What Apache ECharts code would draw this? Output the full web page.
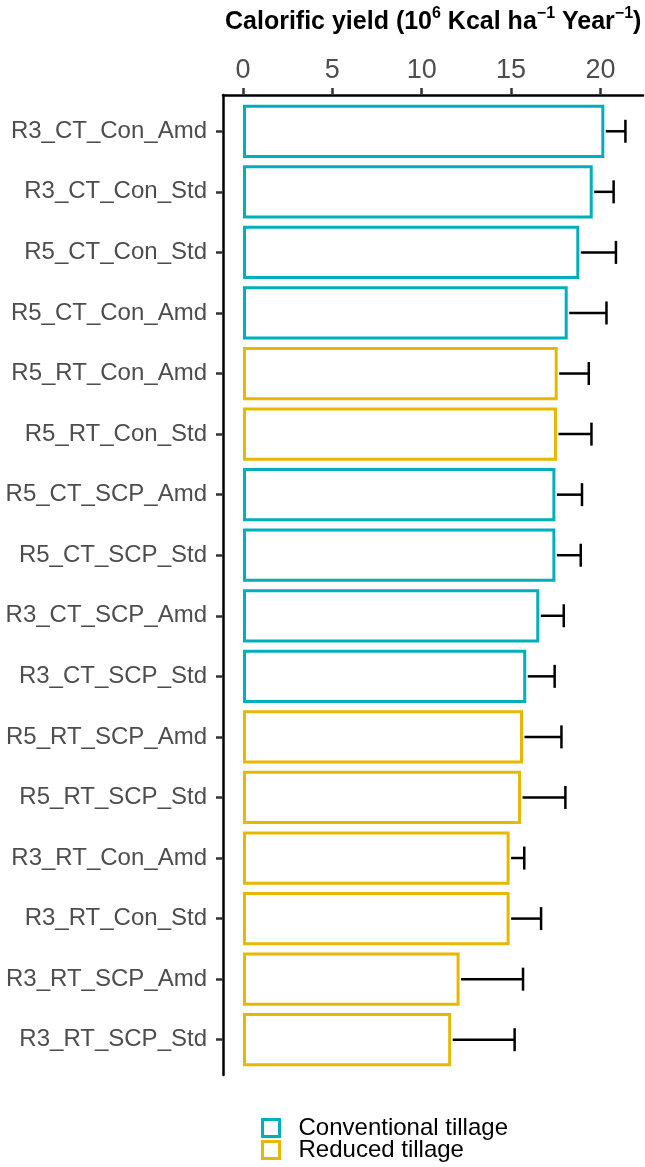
<!DOCTYPE html>
<html>
<head>
<meta charset="utf-8">
<script src="https://cdn.jsdelivr.net/npm/echarts@6/dist/echarts.min.js"></script>
<style>
html,body{margin:0;padding:0;background:#fff;}
#chart{width:645px;height:1167px;}
</style>
</head>
<body>
<div id="chart"></div>
<script>
// ---- data (top to bottom) ----
var categories = ['R3_CT_Con_Amd','R3_CT_Con_Std','R5_CT_Con_Std','R5_CT_Con_Amd','R5_RT_Con_Amd','R5_RT_Con_Std','R5_CT_SCP_Amd','R5_CT_SCP_Std','R3_CT_SCP_Amd','R3_CT_SCP_Std','R5_RT_SCP_Amd','R5_RT_SCP_Std','R3_RT_Con_Amd','R3_RT_Con_Std','R3_RT_SCP_Amd','R3_RT_SCP_Std'];
var yieldValues = [20.22,19.57,18.82,18.17,17.61,17.57,17.48,17.48,16.58,15.85,15.67,15.56,14.92,14.92,12.12,11.65];
var errorValues = [1.18,1.17,2.05,2.17,1.74,1.93,1.49,1.42,1.37,1.59,2.15,2.48,0.82,1.76,3.55,3.55];
var tillage = ['CT','CT','CT','CT','RT','RT','CT','CT','CT','CT','RT','RT','RT','RT','RT','RT'];
var seriesNames = ['Conventional tillage','Reduced tillage'];
var seriesKeys = ['CT','RT'];
var xMin = 0, xMax = 25, xInterval = 5;

var colors = {CT:'#00AFBB', RT:'#E7B800'};
var FONT = '"Liberation Sans", Arial, Helvetica, sans-serif';
var PX_PER_UNIT = 17.87;

var chart = echarts.init(document.getElementById('chart'), null, {renderer:'canvas'});

var barSeries = seriesKeys.map(function(k, si){
  return {
    name: seriesNames[si],
    type: 'bar',
    xAxisIndex: 1, yAxisIndex: 1,
    barWidth: '88%',
    barGap: '-100%',
    data: yieldValues.map(function(v,i){ return tillage[i]===k ? v : '-'; }),
    itemStyle: {color:'#ffffff', borderColor: colors[k], borderWidth: 3},
    emphasis: {disabled:true},
    z: 2
  };
});

var errData = yieldValues.map(function(v,i){ return [v, i, v + errorValues[i]]; });

function legendFor(i, top){
  return {
    orient: 'vertical',
    left: 261, top: top,
    padding: 0,
    itemWidth: 17, itemHeight: 17, itemGap: 0,
    icon: 'rect',
    data: [seriesNames[i]],
    itemStyle: {borderWidth: 3},
    selectedMode: false,
    textStyle: {fontFamily: FONT, fontSize: 24, color: '#000', padding:[0,0,0,14], lineHeight: 24}
  };
}

var option = {
  animation: false,
  backgroundColor: '#ffffff',
  title: {
    left: 220, top: 1,
    text: '{b|Calorific yield (10}{s|6}{b| Kcal ha}{s|−1}{b| Year}{s|−1}{b|)}',
    textStyle: {
      rich: {
        b: {fontFamily: FONT, fontSize: 25, fontWeight: 'bold', color: '#000', lineHeight: 32},
        s: {fontFamily: FONT, fontSize: 16, color: '#000', lineHeight: 32, verticalAlign: 'top'}
      }
    }
  },
  legend: [legendFor(0, 1116), legendFor(1, 1138)],
  grid: [
    {left: 223, top: 95, width: 420, height: 980, outerBoundsMode: 'none', containLabel: false},
    {left: 243, top: 101, width: PX_PER_UNIT * (xMax - xMin), height: 969, outerBoundsMode: 'none', containLabel: false}
  ],
  xAxis: [
    {
      gridIndex: 0, type: 'value', position: 'top', min: 0, max: 1,
      axisLine: {show: true, onZero: false, lineStyle: {color: '#000', width: 2.5}},
      axisTick: {show: false}, axisLabel: {show: false}, splitLine: {show: false}
    },
    {
      gridIndex: 1, type: 'value', position: 'top', offset: 6,
      min: xMin, max: xMax, interval: xInterval,
      axisLine: {show: false, onZero: false},
      axisTick: {show: true, length: 7, lineStyle: {color: '#333', width: 2.5}},
      axisLabel: {show: true, fontFamily: FONT, fontSize: 27, color: '#4d4d4d', margin: 11},
      splitLine: {show: false}
    }
  ],
  yAxis: [
    {
      gridIndex: 0, type: 'value', min: 0, max: 1,
      axisLine: {show: true, onZero: false, lineStyle: {color: '#000', width: 2.5}},
      axisTick: {show: false}, axisLabel: {show: false}, splitLine: {show: false}
    },
    {
      gridIndex: 1, type: 'category', data: categories, inverse: true,
      position: 'left', offset: 20,
      axisLine: {show: false, onZero: false},
      axisTick: {show: true, alignWithLabel: true, length: 7, lineStyle: {color: '#333', width: 2.5}},
      axisLabel: {fontFamily: FONT, fontSize: 24, color: '#4d4d4d', margin: 16},
      splitLine: {show: false}
    }
  ],
  series: barSeries.concat([{
    name: 'err',
    type: 'custom',
    xAxisIndex: 1, yAxisIndex: 1,
    data: errData,
    encode: {x: [0, 2], y: 1},
    z: 3,
    renderItem: function(params, api){
      var p0 = api.coord([api.value(0), api.value(1)]);
      var p1 = api.coord([api.value(2), api.value(1)]);
      var h = 11.5;
      var style = {stroke: '#000', lineWidth: 2.5, fill: null};
      return {
        type: 'group',
        children: [
          {type: 'line', shape: {x1: p0[0] + 1.5, y1: p0[1], x2: p1[0], y2: p1[1]}, style: style},
          {type: 'line', shape: {x1: p1[0], y1: p1[1] - h, x2: p1[0], y2: p1[1] + h}, style: style}
        ]
      };
    }
  }])
};
chart.setOption(option);
</script>
</body>
</html>
